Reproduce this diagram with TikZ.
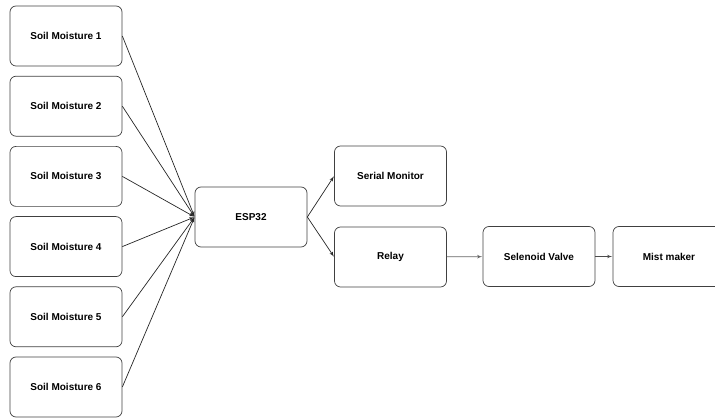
\documentclass[tikz,border=0pt]{standalone}
\usepackage{fontspec}
\setmainfont{Liberation Sans}
\usetikzlibrary{arrows,positioning}

\begin{document}
\begin{tikzpicture}[x=1pt,y=-1pt,->,>=latex',shorten >=0.5pt,line width=0.7pt,node distance=70.2pt,
                    box/.style={rectangle,draw=black!75,rounded corners=6pt,minimum width=112pt,
                    minimum height=60pt,inner sep=0pt,font=\bfseries\fontsize{10}{12}\selectfont}]
  \useasboundingbox (0,0) rectangle (715,419);

  % sensors
  \node[box] (s1) at (66,36) {Soil Moisture 1};
  \node[box] (s2) [below of=s1] {Soil Moisture 2};
  \node[box] (s3) [below of=s2] {Soil Moisture 3};
  \node[box] (s4) [below of=s3] {Soil Moisture 4};
  \node[box] (s5) [below of=s4] {Soil Moisture 5};
  \node[box] (s6) [below of=s5] {Soil Moisture 6};

  \node[box] (esp) at (251,217) {ESP32};
  \node[box] (mon) at (390.5,176) {Serial Monitor};
  \node[box] (relay) at (390.5,257) {Relay};
  \node[box] (valve) at (539,256.5) {Selenoid Valve};
  \node[box] (mist) at (669,256.5) {Mist maker};

  \foreach \i in {1,...,6}
    \draw[black!85] (s\i.east) -- (esp.west);
  \draw[black!85] (esp.east) -- (mon.west);
  \draw[black!85] (esp.east) -- (relay.west);
  \draw[black!60] (relay) -- (valve);
  \draw[black!70] (valve) -- (mist);
\end{tikzpicture}
\end{document}
